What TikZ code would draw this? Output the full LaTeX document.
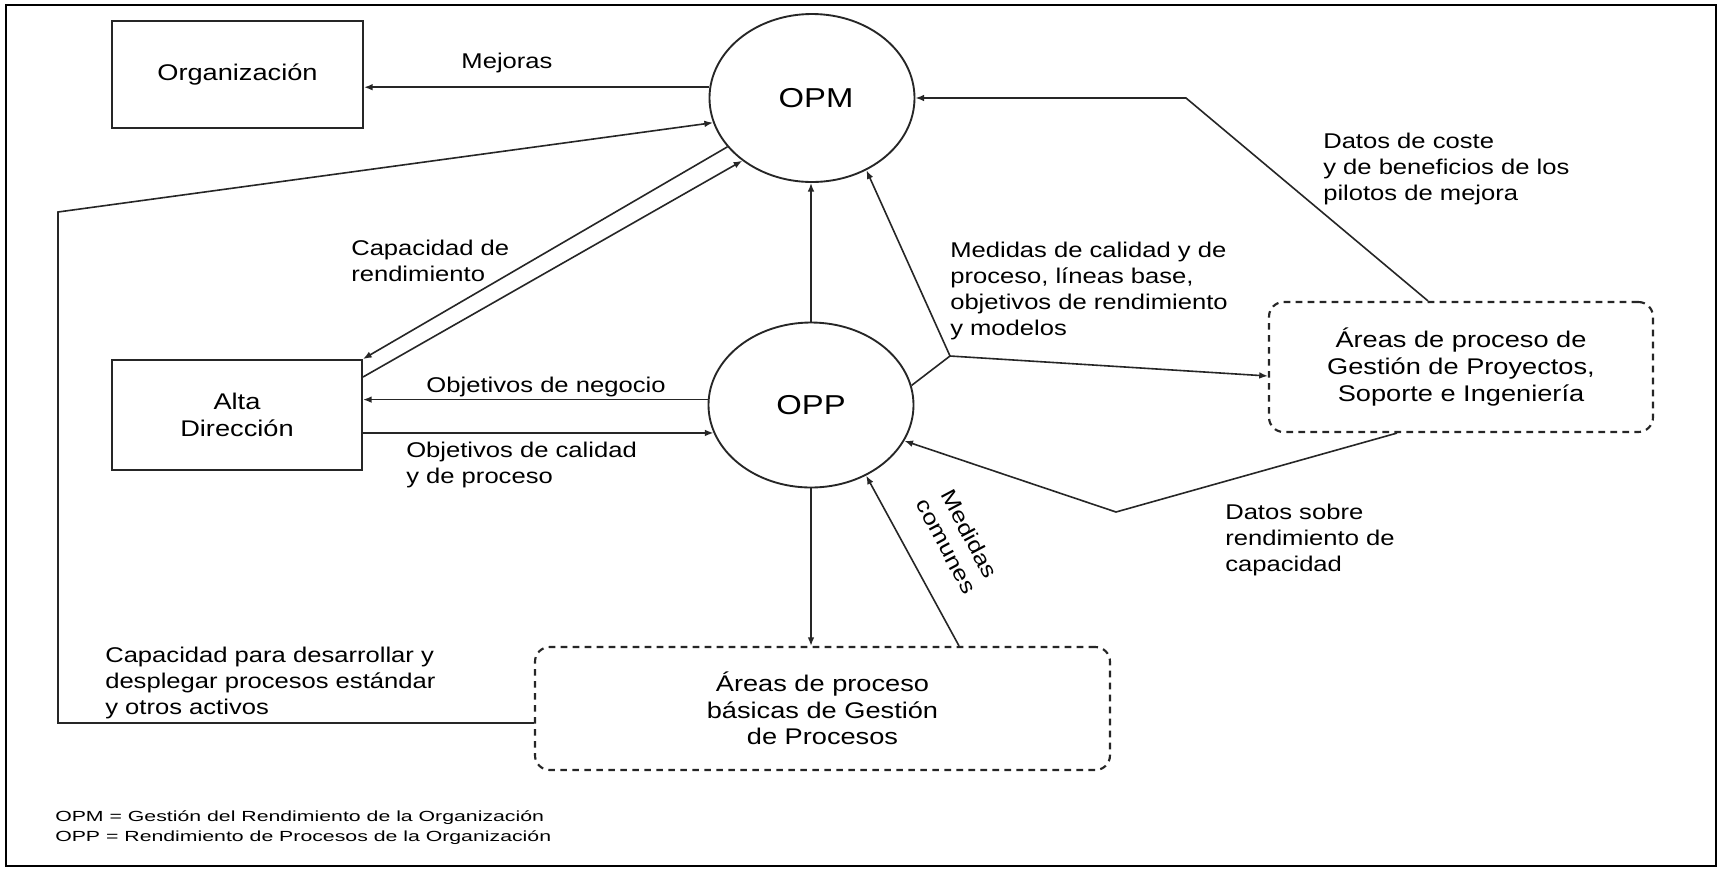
\documentclass[tikz,border=0pt]{standalone}
\usepackage{fontspec}
\setmainfont{Liberation Sans}
\newfontfamily\widesans[FakeStretch=1.2]{Liberation Sans}
\newfontfamily\legendsans[FakeStretch=1.45]{Liberation Sans}
\usetikzlibrary{arrows.meta,shapes.geometric,calc}

\begin{document}
\begin{tikzpicture}[x=0.75pt,y=-0.75pt,
  conn/.style={line width=1.2pt,draw=black!85},
  arr/.style={conn,-{Latex[length=6.5pt,width=5pt]}},
  solidbox/.style={draw=black!85,line width=1.5pt,rectangle,inner sep=0pt,align=center,
    font=\widesans\fontsize{17}{20}\selectfont},
  dashbox/.style={draw=black!85,line width=1.6pt,rectangle,rounded corners=11pt,inner sep=0pt,
    dash pattern=on 5pt off 4pt,align=center,font=\widesans\fontsize{17}{20}\selectfont},
  bubble/.style={draw=black!85,line width=1.4pt,ellipse,inner sep=0pt,
    font=\widesans\fontsize{20.5}{24}\selectfont},
  lbl/.style={inner sep=0pt,align=left,font=\widesans\fontsize{16}{19.5}\selectfont},
  legend/.style={inner sep=0pt,align=left,font=\legendsans\fontsize{11}{15}\selectfont}
]
\useasboundingbox (0,0) rectangle (1721,869);
\fill[white] (0,0) rectangle (1721,869);
\draw[line width=2.2pt] (6,5) rectangle (1716,866);

% boxes and process bubbles
\node[solidbox,minimum width=188.25pt,minimum height=80.25pt] (org) at (237.5,74.5) {\raisebox{-4pt}{Organización}};
\node[solidbox,minimum width=187.5pt,minimum height=82.5pt] (alta) at (237,415) {Alta\\Dirección};
\node[bubble,minimum width=153.75pt,minimum height=126pt] (opm) at (812,98) {\hspace*{6pt}OPM};
\node[bubble,minimum width=153.75pt,minimum height=123.75pt] (opp) at (811,405) {OPP};
\node[dashbox,minimum width=431.25pt,minimum height=92.25pt] (basic) at (822.5,708.5)
  {Áreas de proceso\\básicas de Gestión\\de Procesos};
\node[dashbox,minimum width=288pt,minimum height=97.5pt] (areas) at (1461,367)
  {Áreas de proceso de\\Gestión de Proyectos,\\Soporte e Ingeniería};

% helper points for bent connectors
\coordinate (loopbot) at (58,723);
\coordinate (looptop) at (58,212);
\coordinate (junc) at (950,356);
\coordinate (costbend) at (1186,98);
\coordinate (capbend) at (1116,512);

% connectors
\draw[arr] (opm.174) -- (opm.174 -| org.east);
\draw[arr] (loopbot -| basic.west) -- (loopbot) -- (looptop) -- (opm.194);
\draw[arr] (opm.210) -- (alta.north east);
\draw[arr] ([yshift=-13.5pt]alta.north east) -- (opm.222);
\draw[arr] (opp.177) -- (opp.177 -| alta.east);
\draw[arr] (opp.196 -| alta.east) -- (opp.196);
\draw[arr] (opp.north) -- (opp.north |- opm.south);
\draw[arr] (opp.south) -- (opp.south |- basic.north);
\draw[conn] (opp.11) -- (junc);
\draw[arr] (junc) -- (opm.307);
\draw[arr] (junc) -- ([yshift=-6.75pt]areas.west);
\draw[arr] ([xshift=-24.75pt]areas.north) -- (costbend) -- (opm.east);
\draw[arr] ([xshift=-48pt]areas.south) -- (capbend) -- (opp.339);
\draw[arr] ([xshift=102.4pt]basic.north) -- (opp.308);

% connector labels
\node[lbl] (lmej) at (507,63) {Mejoras};
\node[lbl,anchor=west] (lcap) at (351,260.5) {Capacidad de\\rendimiento};
\node[lbl] (lneg) at (546,387) {Objetivos de negocio};
\node[lbl,anchor=west] (lcal) at (406,464.5) {Objetivos de calidad\\y de proceso};
\node[lbl,anchor=west] (ldes) at (105,683) {Capacidad para desarrollar y\\desplegar procesos estándar\\y otros activos};
\node[lbl,anchor=west] (lmed) at (950,291) {Medidas de calidad y de\\proceso, líneas base,\\objetivos de rendimiento\\y modelos};
\node[lbl,anchor=west] (lcos) at (1323,169) {Datos de coste\\y de beneficios de los\\pilotos de mejora};
\node[lbl,anchor=west] (lren) at (1225,540) {Datos sobre\\rendimiento de\\capacidad};
\node[lbl,align=center,rotate=-62] (lcom) at (958,540) {Medidas\\comunes};

% legend
\node[legend,anchor=west] (key) at (55,828) {OPM = Gestión del Rendimiento de la Organización\\OPP = Rendimiento de Procesos de la Organización};
\end{tikzpicture}
\end{document}
